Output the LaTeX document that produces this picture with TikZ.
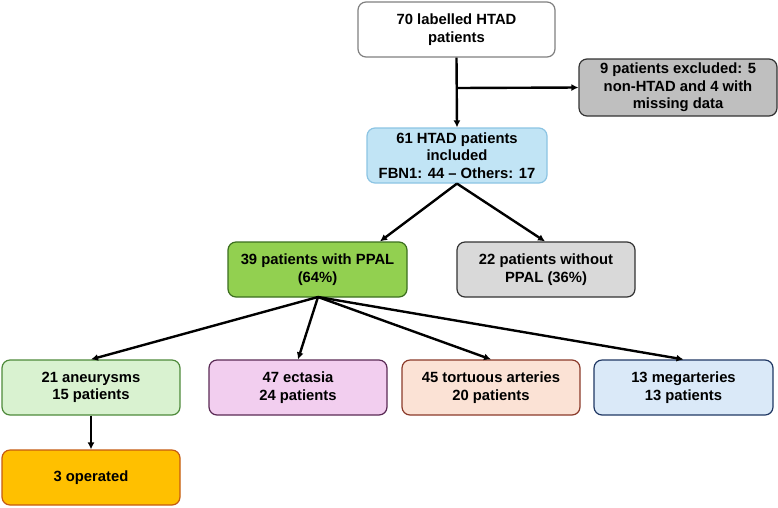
\documentclass[tikz,border=0pt]{standalone}
\usepackage{fontspec}
\setmainfont{Liberation Sans}
\usetikzlibrary{arrows.meta}
\definecolor{cExcl}{HTML}{BFBFBF}
\definecolor{cIncl}{HTML}{C1E4F5}
\definecolor{cIncB}{HTML}{8CC4E3}
\definecolor{cPpal}{HTML}{92D050}
\definecolor{cPpaB}{HTML}{3B6E1E}
\definecolor{cNo}{HTML}{D9D9D9}
\definecolor{cAn}{HTML}{D9F2D0}
\definecolor{cAnB}{HTML}{4E8A3A}
\definecolor{cEc}{HTML}{F2CEEF}
\definecolor{cEcB}{HTML}{5A2A55}
\definecolor{cTo}{HTML}{FBE2D5}
\definecolor{cToB}{HTML}{8B3A2A}
\definecolor{cMe}{HTML}{DAE9F8}
\definecolor{cMeB}{HTML}{203864}
\definecolor{cOp}{HTML}{FFC000}
\definecolor{cOpB}{HTML}{C55A11}
\tikzset{
  x=1pt, y=-1pt,
  box/.style={draw, rounded corners=8pt, line width=1.2pt, align=center,
    font=\fontsize{14.8}{17.7}\selectfont\bfseries, inner sep=0pt,
    minimum height=55pt, minimum width=179pt},
  arr/.style={line width=2.4pt, -{Latex[length=7pt,width=7pt]}}
}
\begin{document}
\begin{tikzpicture}
\useasboundingbox (0,0) rectangle (778,507);
\node[box, draw=black!50, fill=white, minimum width=197pt] (top) at (456.5,29.5) {70 labelled HTAD\\patients};
\node[box, draw=black!80, fill=cExcl, minimum width=198pt, minimum height=57pt] (excl) at (678,87.5) {9 patients excluded: 5\\non-HTAD and 4 with\\missing data};
\node[box, draw=cIncB, fill=cIncl, minimum width=180pt] (incl) at (457,155.5) {61 HTAD patients\\included\\FBN1: 44 -- Others: 17};
\node[box, draw=cPpaB, fill=cPpal] (ppal) at (317.5,269.5) {39 patients with PPAL\\(64\%)};
\node[box, draw=black!80, fill=cNo, minimum width=178pt] (noppal) at (546,269.5) {22 patients without\\PPAL (36\%)};
\node[box, draw=cAnB, fill=cAn, minimum width=178pt] (an) at (91,387.5) {21 aneurysms\\15 patients};
\node[box, draw=cEcB, fill=cEc, minimum width=178pt] (ec) at (298,387.5) {47 ectasia\\24 patients};
\node[box, draw=cToB, fill=cTo, minimum width=178pt] (to) at (491,387.5) {45 tortuous arteries\\20 patients};
\node[box, draw=cMeB, fill=cMe, minimum width=179pt] (me) at (683.5,387.5) {13 megarteries\\13 patients};
\node[box, draw=cOpB, fill=cOp, minimum width=178pt] (op) at (91,477.5) {3 operated};
\coordinate (br) at (457,88);
\draw[arr] (top.south) -- (incl.north);
\draw[arr] (br) -- (excl.west);
\draw[arr] (incl.south) -- (ppal.north -| 380,0);
\draw[arr] (incl.south) -- (noppal.north -| 545,0);
\coordinate (pb) at (318,297);
\draw[arr] (pb) -- (an.north);
\draw[arr] (pb) -- (ec.north);
\draw[arr] (pb) -- (to.north);
\draw[arr] (pb) -- (me.north);
\draw[arr] (an.south) -- (op.north);
\end{tikzpicture}
\end{document}
